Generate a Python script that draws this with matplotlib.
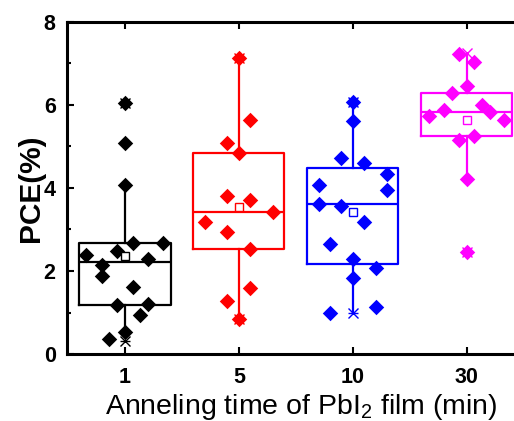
import matplotlib
matplotlib.use("Agg")
import matplotlib.pyplot as plt
from matplotlib.ticker import MultipleLocator

plt.rcParams['font.family'] = ['Liberation Sans', 'DejaVu Sans']
plt.rcParams['mathtext.fontset'] = 'custom'
plt.rcParams['mathtext.rm'] = 'Liberation Sans'
plt.rcParams['mathtext.it'] = 'Liberation Sans:italic'

categories = ['1', '5', '10', '30']
colors = ['#000000', '#FF0000', '#0000FF', '#FF00FF']

# data points (PCE %) and horizontal jitter for each group
pce_1 = [6.04, 5.08, 4.08, 2.68, 2.68, 2.48, 2.38, 2.30, 2.14, 1.89, 1.62, 1.17, 1.20, 0.94, 0.53, 0.36]
jit_1 = [0, 0, 0, 0.07, 0.33, -0.07, -0.34, 0.20, -0.20, -0.20, 0.07, -0.07, 0.20, 0.13, 0, -0.14]
pce_5 = [7.12, 5.63, 5.09, 4.85, 3.81, 3.72, 3.41, 3.18, 2.93, 2.54, 1.60, 1.27, 0.84]
jit_5 = [0, 0.10, -0.10, 0, -0.10, 0.10, 0.30, -0.30, -0.10, 0.10, 0.10, -0.10, 0]
pce_10 = [6.08, 5.61, 4.72, 4.61, 4.34, 4.08, 3.96, 3.61, 3.56, 3.17, 2.64, 2.30, 2.07, 1.83, 1.14, 0.99]
jit_10 = [0, 0, -0.10, 0.10, 0.30, -0.30, 0.30, -0.30, -0.10, 0.10, -0.20, 0, 0.20, 0, 0.20, -0.20]
pce_30 = [7.23, 7.04, 6.45, 6.29, 6.00, 5.89, 5.84, 5.73, 5.64, 5.24, 5.16, 4.21, 2.46]
jit_30 = [-0.07, 0.06, 0, -0.13, 0.13, -0.20, 0.20, -0.33, 0.33, 0.06, -0.07, 0, 0]

# box statistics
q1 = [1.19, 2.54, 2.18, 5.24]
med = [2.21, 3.41, 3.61, 5.84]
q3 = [2.68, 4.85, 4.48, 6.28]
whislo = [0.53, 0.84, 0.98, 4.21]
whishi = [4.08, 7.12, 6.08, 7.23]
means = [2.36, 3.54, 3.42, 5.64]
mins = [0.32, 0.84, 0.98, 2.46]
maxs = [6.04, 7.12, 6.08, 7.26]

groups = [(pce_1, jit_1), (pce_5, jit_5), (pce_10, jit_10), (pce_30, jit_30)]

fig = plt.figure(figsize=(5.14, 4.21), dpi=100)
ax = fig.add_axes([0.130, 0.159, 0.889, 0.789])

for i in range(4):
    pos = i + 1
    c = colors[i]
    stats = [dict(q1=q1[i], med=med[i], q3=q3[i], whislo=whislo[i], whishi=whishi[i],
                  mean=means[i], fliers=[])]
    ax.bxp(stats, positions=[pos], widths=0.8, showcaps=False, showfliers=False,
           showmeans=False, patch_artist=False,
           boxprops=dict(color=c, linewidth=1.6),
           whiskerprops=dict(color=c, linewidth=1.6),
           medianprops=dict(color=c, linewidth=1.6),
           manage_ticks=False)
    vals, jit = groups[i]
    ax.scatter([pos + j for j in jit], vals, marker='D', s=62, color=c, zorder=3,
               linewidths=0)
    ax.plot([pos], [means[i]], marker='s', ms=6.3, mfc='white', mec=c, mew=1.0,
            zorder=4, ls='none')
    ax.plot([pos, pos], [mins[i], maxs[i]], marker='x', ms=7, color=c, mew=1.0,
            ls='none', zorder=4)
    ax.plot([pos], [mins[i]], marker='_', ms=7, color=c, mew=1.0, ls='none', zorder=4)

ax.set_xlim(0.49, 4.5)
ax.set_ylim(0, 8)
ax.set_xticks([1, 2, 3, 4])
ax.set_xticklabels(categories)
ax.yaxis.set_major_locator(MultipleLocator(2))
ax.yaxis.set_minor_locator(MultipleLocator(1))
ax.tick_params(axis='both', which='both', direction='in', top=True, right=True,
               width=1.5, labelsize=15.5)
ax.tick_params(axis='x', which='major', length=5, pad=9)
ax.tick_params(axis='y', which='major', length=5, pad=8)
ax.tick_params(axis='y', which='minor', length=3)
for lab in ax.get_xticklabels() + ax.get_yticklabels():
    lab.set_fontweight('bold')
for sp in ax.spines.values():
    sp.set_linewidth(2.2)

ax.text(-0.079, 0.5, 'PCE(%)', transform=ax.transAxes, rotation=90,
        fontsize=21.5, fontweight='bold', ha='center', va='center')
fig.text(0.586, 0.016, 'Anneling time of PbI$_2$ film (min)', fontsize=20.5,
         ha='center', va='baseline')

fig.savefig('out.png', dpi=100)
